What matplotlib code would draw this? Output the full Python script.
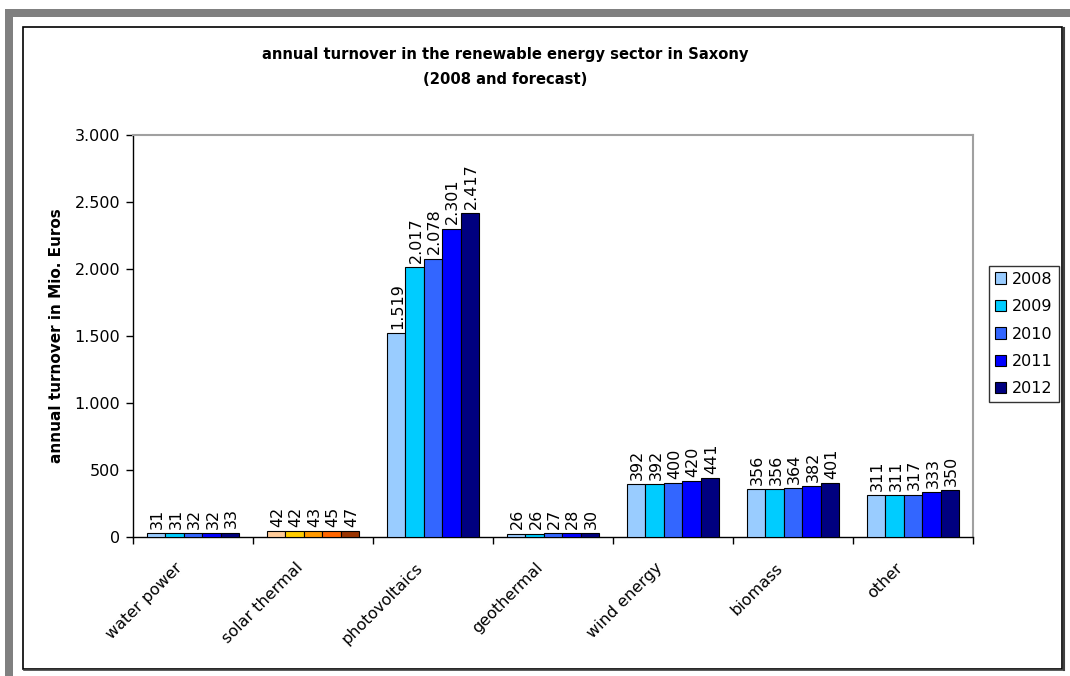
import numpy as np
import matplotlib.pyplot as plt
from matplotlib.patches import Rectangle
from matplotlib.lines import Line2D
from matplotlib.transforms import ScaledTranslation, blended_transform_factory

categories = ['water power', 'solar thermal', 'photovoltaics', 'geothermal',
              'wind energy', 'biomass', 'other']
years = ['2008', '2009', '2010', '2011', '2012']

turnover = {
    '2008': [31, 42, 1519, 26, 392, 356, 311],
    '2009': [31, 42, 2017, 26, 392, 356, 311],
    '2010': [32, 43, 2078, 27, 400, 364, 317],
    '2011': [32, 45, 2301, 28, 420, 382, 333],
    '2012': [33, 47, 2417, 30, 441, 401, 350],
}

blues = ['#99CCFF', '#00CCFF', '#3366FF', '#0000FF', '#000080']
# solar thermal is drawn in its own orange palette
oranges = ['#FFCC99', '#FFCC00', '#FF9900', '#FF6600', '#993300']

def fmt(v):
    return '{:,}'.format(v).replace(',', '.')

W, H = 1070, 676
fig = plt.figure(figsize=(W / 100, H / 100), dpi=100)
fig.patch.set_facecolor('white')

def px(x, y):
    return x / W, 1 - y / H

# grey page frame (top and left bands)
fig.patches.append(Rectangle(px(5, 17), (W - 5) / W, 8 / H, transform=fig.transFigure,
                             facecolor='#808080', edgecolor='none', zorder=0))
fig.patches.append(Rectangle(px(5, H), 8 / W, (H - 9) / H, transform=fig.transFigure,
                             facecolor='#808080', edgecolor='none', zorder=0))
# chart area border with shadow on right and bottom
fig.patches.append(Rectangle(px(22.5, 668.5), (1062 - 22.5) / W, (668.5 - 26.5) / H,
                             transform=fig.transFigure, facecolor='none',
                             edgecolor='black', linewidth=1.2, zorder=1))
fig.lines.append(Line2D([1063.5 / W, 1063.5 / W], [1 - 28 / H, 1 - 670 / H],
                        transform=fig.transFigure, color='#404040', linewidth=1.5))
fig.lines.append(Line2D([24 / W, 1063.5 / W], [1 - 670 / H, 1 - 670 / H],
                        transform=fig.transFigure, color='#404040', linewidth=1.2))

ax = fig.add_axes([133 / W, 1 - 537 / H, (973 - 133) / W, (537 - 135) / H])

n = len(years)
bw = 1 / (n + 1.5)
x = np.arange(len(categories))
for i, yr in enumerate(years):
    cols = [oranges[i] if c == 'solar thermal' else blues[i] for c in categories]
    pos = x - 2.5 * bw + (i + 0.5) * bw
    ax.bar(pos, turnover[yr], width=bw, color=cols, edgecolor='black',
           linewidth=0.8, label=yr, zorder=3)
    for xp, v in zip(pos, turnover[yr]):
        ax.annotate(fmt(v), (xp, v), xytext=(1, 3), textcoords='offset points',
                    rotation=90, ha='center', va='bottom', fontsize=11.5)

ax.set_xlim(-0.5, len(categories) - 0.5)
ax.set_ylim(0, 3000)
ax.set_yticks(np.arange(0, 3001, 500))
ax.set_yticklabels([fmt(v) for v in range(0, 3001, 500)], fontsize=11.5)
ax.set_xticks(np.arange(-0.5, len(categories), 1))
ax.set_xticklabels([])
ax.tick_params(axis='both', which='major', length=5, width=1, direction='out')
ax.tick_params(axis='y', pad=4)

# category names, rotated, ending just left of the group centre
lab_tr = blended_transform_factory(ax.transData, ax.transAxes) + \
    ScaledTranslation(-18 / 100, -23 / 100, fig.dpi_scale_trans)
for xc, name in zip(x, categories):
    ax.text(xc, 0, name, transform=lab_tr, rotation=45, ha='right', va='top',
            rotation_mode='anchor', fontsize=11.5)

for s in ['top', 'right']:
    ax.spines[s].set_color('#A0A0A0')
    ax.spines[s].set_linewidth(1.5)
for s in ['left', 'bottom']:
    ax.spines[s].set_color('black')
    ax.spines[s].set_linewidth(1)

ax.set_ylabel('annual turnover in Mio. Euros', fontsize=11, fontweight='bold', labelpad=8)

fig.text(505 / W, 1 - 55 / H, 'annual turnover in the renewable energy sector in Saxony',
         ha='center', va='center', fontsize=10.6, fontweight='bold')
fig.text(505 / W, 1 - 79 / H, '(2008 and forecast)',
         ha='center', va='center', fontsize=10.6, fontweight='bold')

leg = ax.legend(loc='upper left', bbox_to_anchor=(989 / W, 1 - 266 / H),
                bbox_transform=fig.transFigure, fontsize=11.5, frameon=True,
                fancybox=False, edgecolor='black', handlelength=0.7,
                handleheight=0.7, handletextpad=0.4, borderpad=0.35,
                labelspacing=0.78, borderaxespad=0)
leg.get_frame().set_linewidth(1)

fig.savefig('out.png', dpi=100)
